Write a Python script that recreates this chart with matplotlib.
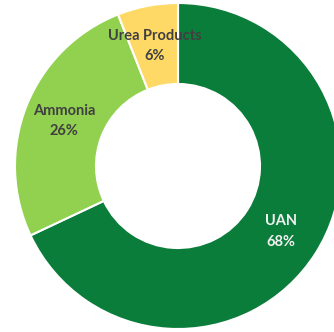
import matplotlib
matplotlib.use("Agg")
import matplotlib.pyplot as plt

# product share data
products = ["UAN", "Ammonia", "Urea Products"]
shares = [68, 26, 6]
colors = ["#0B7D3B", "#92D050", "#FFD966"]
text_colors = ["#F2F2F2", "#404040", "#404040"]

fig = plt.figure(figsize=(3.34, 3.32), dpi=100)
ax = fig.add_axes([0, 0, 1, 1])

labels = [f"{p}\n{s}%" for p, s in zip(products, shares)]
wedges, texts = ax.pie(
    shares,
    labels=labels,
    colors=colors,
    startangle=90,
    counterclock=False,
    center=(178, 166),
    radius=163,
    labeldistance=0.75,
    wedgeprops=dict(width=81, edgecolor="white", linewidth=1.5),
    frame=True,
)
ax.set_xlim(0, 334)
ax.set_ylim(0, 332)
ax.set_aspect("equal")
ax.axis("off")

for t, c in zip(texts, text_colors):
    t.set_horizontalalignment("center")
    t.set_verticalalignment("center")
    t.set_color(c)
    t.set_fontfamily("Lato")
    t.set_fontweight("bold")
    t.set_fontsize(10.5)
    t.set_linespacing(1.6)

fig.savefig("out.png", dpi=100, facecolor="white")
